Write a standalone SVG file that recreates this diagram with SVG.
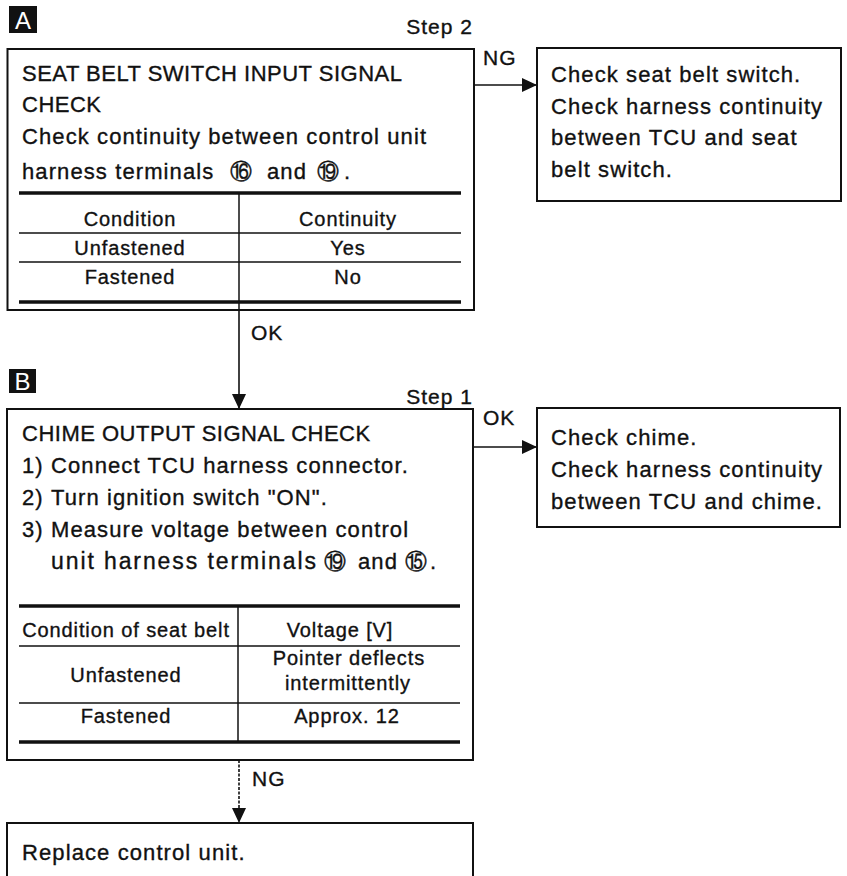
<svg xmlns="http://www.w3.org/2000/svg" width="847" height="876" viewBox="0 0 847 876">
<style>
text{font-family:"Liberation Sans",Arial,"DejaVu Sans",sans-serif;fill:#111;stroke:#111;stroke-width:0.35}
.t{font-size:22px;letter-spacing:1.1px}
.h{font-size:22px;letter-spacing:0.5px}
.c{font-size:20px;letter-spacing:0.9px;text-anchor:middle}
.lbl{font-size:21px;letter-spacing:1px}
.box{fill:#fff;stroke:#111;stroke-width:2}
.thick{stroke:#111;stroke-width:3.5}
.thin{stroke:#111;stroke-width:1.5}
.conn{stroke:#111;stroke-width:1.6;fill:none}
.tag{fill:#111}
.tagt{font-size:24px;fill:#fff;stroke:none;text-anchor:middle}
.cn{font-size:22px;letter-spacing:0}
</style>
<defs>
<marker id="ah" markerUnits="userSpaceOnUse" markerWidth="16" markerHeight="14" refX="15" refY="7" orient="auto">
<path d="M0,0 L15,7 L0,14 Z" fill="#111"/>
</marker>
</defs>
<rect width="847" height="876" fill="#fff"/>

<g id="connectors">
<line class="conn" x1="474" y1="85" x2="537" y2="85" marker-end="url(#ah)"/>
<text class="lbl" x="483" y="65">NG</text>
<line class="conn" x1="239" y1="310" x2="239" y2="409" marker-end="url(#ah)"/>
<text class="lbl" x="251" y="340">OK</text>
<line class="conn" x1="473" y1="447" x2="537" y2="447" marker-end="url(#ah)"/>
<text class="lbl" x="483" y="425">OK</text>
<line class="conn" x1="239" y1="760" x2="239" y2="823" stroke-dasharray="3 1.5" marker-end="url(#ah)"/>
<text class="lbl" x="252" y="786">NG</text>
</g>

<g id="nodeA">
<rect class="tag" x="9" y="6" width="28" height="27"/>
<text class="tagt" x="23" y="29">A</text>
<text class="lbl" x="473" y="34" text-anchor="end">Step 2</text>
<rect class="box" x="7.5" y="49" width="466.5" height="261"/>
<text class="h" x="22" y="81">SEAT BELT SWITCH INPUT SIGNAL</text>
<text class="h" x="22" y="112">CHECK</text>
<text class="t" x="22" y="144">Check continuity between control unit</text>
<text class="t" x="22" y="179">harness terminals<tspan class="cn" x="230">⑯</tspan><tspan x="267">and</tspan><tspan class="cn" x="317">⑲</tspan><tspan x="344">.</tspan></text>
<line class="thick" x1="19" y1="193" x2="461" y2="193"/>
<line class="thin" x1="239" y1="193" x2="239" y2="310"/>
<line class="thin" x1="19" y1="233" x2="461" y2="233"/>
<line class="thin" x1="19" y1="262" x2="461" y2="262"/>
<line class="thick" x1="19" y1="302" x2="461" y2="302"/>
<text class="c" x="130" y="226">Condition</text>
<text class="c" x="348" y="226">Continuity</text>
<text class="c" x="130" y="255">Unfastened</text>
<text class="c" x="348" y="255">Yes</text>
<text class="c" x="130" y="284">Fastened</text>
<text class="c" x="348" y="284">No</text>
</g>

<g id="nodeNG1">
<rect class="box" x="537" y="48" width="304" height="153"/>
<text class="t" x="551" y="82">Check seat belt switch.</text>
<text class="t" x="551" y="114">Check harness continuity</text>
<text class="t" x="551" y="145">between TCU and seat</text>
<text class="t" x="551" y="177">belt switch.</text>
</g>

<g id="nodeB">
<rect class="tag" x="9" y="369" width="27" height="24"/>
<text class="tagt" x="22.5" y="390">B</text>
<text class="lbl" x="473" y="404" text-anchor="end">Step 1</text>
<rect class="box" x="7" y="409" width="466" height="351"/>
<text class="h" x="22" y="441">CHIME OUTPUT SIGNAL CHECK</text>
<text class="t" x="22" y="473">1)<tspan x="51">Connect TCU harness connector.</tspan></text>
<text class="t" x="22" y="505">2)<tspan x="51">Turn ignition switch "ON".</tspan></text>
<text class="t" x="22" y="537">3)<tspan x="51">Measure voltage between control</tspan></text>
<text class="t" x="51" y="569" style="font-size:23px" textLength="266" lengthAdjust="spacing">unit harness terminals</text>
<text class="t" x="324" y="569"><tspan class="cn">⑲</tspan><tspan x="358">and</tspan><tspan class="cn" x="405">⑮</tspan><tspan x="430">.</tspan></text>
<line class="thick" x1="19" y1="606" x2="460" y2="606"/>
<line class="thin" x1="238" y1="606" x2="238" y2="742"/>
<line class="thin" x1="19" y1="646" x2="460" y2="646"/>
<line class="thin" x1="19" y1="703" x2="460" y2="703"/>
<line class="thick" x1="19" y1="742" x2="460" y2="742"/>
<text class="c" x="126" y="637">Condition of seat belt</text>
<text class="c" x="340" y="637">Voltage [V]</text>
<text class="c" x="126" y="682">Unfastened</text>
<text class="c" x="349" y="665">Pointer deflects</text>
<text class="c" x="348" y="690">intermittently</text>
<text class="c" x="126" y="723">Fastened</text>
<text class="c" x="347" y="723">Approx. 12</text>
</g>

<g id="nodeOK">
<rect class="box" x="537" y="408" width="303" height="119"/>
<text class="t" x="551" y="445">Check chime.</text>
<text class="t" x="551" y="477">Check harness continuity</text>
<text class="t" x="551" y="509">between TCU and chime.</text>
</g>

<g id="nodeReplace">
<rect class="box" x="7" y="823" width="466" height="70"/>
<text class="t" x="22" y="860">Replace control unit.</text>
</g>
</svg>
